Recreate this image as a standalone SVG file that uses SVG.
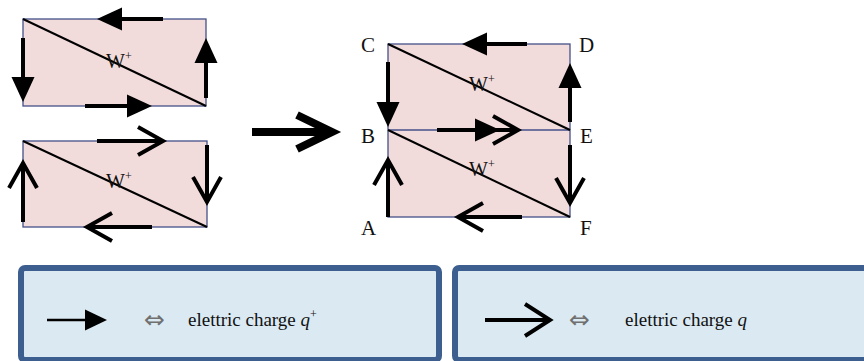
<svg xmlns="http://www.w3.org/2000/svg" width="864" height="361" viewBox="0 0 864 361">
<style>
.cell{fill:#f2dcdb;stroke:#44508a;stroke-width:1.3}
.diag{stroke:#000;stroke-width:2;fill:none}
.ar{stroke:#000;stroke-width:4;fill:none}
.lbl{font-family:"Liberation Serif","Times New Roman",serif;font-size:21px;fill:#111}
.w{font-family:"Liberation Serif","Times New Roman",serif;font-size:20px;fill:#111}
.sup{font-size:12px}
.box{fill:#dbeaf2;stroke:#3d5f8f;stroke-width:6}
.txt{font-family:"Liberation Serif","Times New Roman",serif;font-size:19px;fill:#111}
.eq{font-family:"DejaVu Sans",sans-serif;font-size:25px;fill:#707070}
</style>
<defs>
<marker id="fh" markerUnits="userSpaceOnUse" markerWidth="25" markerHeight="23" refX="17" refY="11.5" orient="auto" overflow="visible">
<path d="M0,0 L25,11.5 L0,23 z" fill="#000"/>
</marker>
<marker id="ch" markerUnits="userSpaceOnUse" markerWidth="26" markerHeight="28" refX="25" refY="14" orient="auto" overflow="visible">
<path d="M0,0 L25,14 L0,28" fill="none" stroke="#000" stroke-width="4"/>
</marker>
<marker id="fhs" markerUnits="userSpaceOnUse" markerWidth="22" markerHeight="21" refX="14" refY="10.5" orient="auto" overflow="visible">
<path d="M0,0 L22,10.5 L0,21 z" fill="#000"/>
</marker>
<marker id="chs" markerUnits="userSpaceOnUse" markerWidth="26" markerHeight="32" refX="25" refY="16" orient="auto" overflow="visible">
<path d="M0,0 L25,16 L0,32" fill="none" stroke="#000" stroke-width="4"/>
</marker>
</defs>

<g id="rect-top">
<rect class="cell" x="23" y="19" width="183" height="87"/>
<line class="diag" x1="23" y1="19" x2="206" y2="106"/>
<text class="w" x="106" y="68">W<tspan class="sup" dy="-8">+</tspan></text>
</g>
<g id="rect-bottom">
<rect class="cell" x="23" y="141" width="184" height="86"/>
<line class="diag" x1="23" y1="141" x2="207" y2="227"/>
<text class="w" x="106" y="188">W<tspan class="sup" dy="-8">+</tspan></text>
</g>
<g id="rect-combined">
<rect class="cell" x="388" y="44" width="182" height="173"/>
<line x1="388" y1="130" x2="570" y2="130" stroke="#44508a" stroke-width="1.3"/>
<line class="diag" x1="388" y1="44" x2="570" y2="130"/>
<line class="diag" x1="388" y1="130" x2="570" y2="217"/>
<text class="w" x="469" y="91">W<tspan class="sup" dy="-8">+</tspan></text>
<text class="w" x="469" y="176">W<tspan class="sup" dy="-8">+</tspan></text>
</g>
<g id="labels">
<text class="lbl" x="361" y="52">C</text>
<text class="lbl" x="579" y="52">D</text>
<text class="lbl" x="361" y="143">B</text>
<text class="lbl" x="580" y="143">E</text>
<text class="lbl" x="361" y="235">A</text>
<text class="lbl" x="580" y="235">F</text>
</g>

<g id="connectors">
<line class="ar" x1="163" y1="19" x2="105" y2="19" marker-end="url(#fh)"/>
<line class="ar" x1="23" y1="38" x2="23" y2="94" marker-end="url(#fh)"/>
<line class="ar" x1="85" y1="106" x2="144" y2="106" marker-end="url(#fh)"/>
<line class="ar" x1="206" y1="98" x2="206" y2="46" marker-end="url(#fh)"/>

<line class="ar" x1="97" y1="141" x2="163" y2="141" marker-end="url(#ch)"/>
<line class="ar" x1="207" y1="145" x2="207" y2="202" marker-end="url(#ch)"/>
<line class="ar" x1="152" y1="227" x2="87" y2="227" marker-end="url(#ch)"/>
<line class="ar" x1="23" y1="222" x2="23" y2="163" marker-end="url(#ch)"/>

<path d="M252,132 H329 M297,115 L332,132 L297,149" fill="none" stroke="#000" stroke-width="8"/>

<line class="ar" x1="527" y1="44" x2="470" y2="44" marker-end="url(#fh)"/>
<line class="ar" x1="388" y1="62" x2="388" y2="119" marker-end="url(#fh)"/>
<line class="ar" x1="437" y1="130" x2="492" y2="130" marker-end="url(#fh)"/>
<line class="ar" x1="495" y1="130" x2="518" y2="130" marker-end="url(#ch)"/>
<line class="ar" x1="570" y1="122" x2="570" y2="71" marker-end="url(#fh)"/>
<line class="ar" x1="570" y1="145" x2="570" y2="203" marker-end="url(#ch)"/>
<line class="ar" x1="522" y1="217" x2="458" y2="217" marker-end="url(#ch)"/>
<line class="ar" x1="388" y1="217" x2="388" y2="160" marker-end="url(#ch)"/>
</g>

<g id="legend-filled">
<rect class="box" x="21" y="268" width="418" height="92" rx="4"/>
<line x1="47" y1="320" x2="99" y2="320" stroke="#000" stroke-width="2.5" marker-end="url(#fhs)"/>
<text class="eq" x="144" y="328">⇔</text>
<text class="txt" x="188" y="326">elettric charge <tspan font-style="italic">q</tspan><tspan class="sup" dy="-8">+</tspan></text>
</g>
<g id="legend-open">
<rect class="box" x="455" y="268" width="420" height="92" rx="4"/>
<line x1="485" y1="320" x2="550" y2="320" stroke="#000" stroke-width="4" marker-end="url(#chs)"/>
<text class="eq" x="569" y="328">⇔</text>
<text class="txt" x="625" y="326">elettric charge <tspan font-style="italic">q</tspan></text>
</g>
</svg>
